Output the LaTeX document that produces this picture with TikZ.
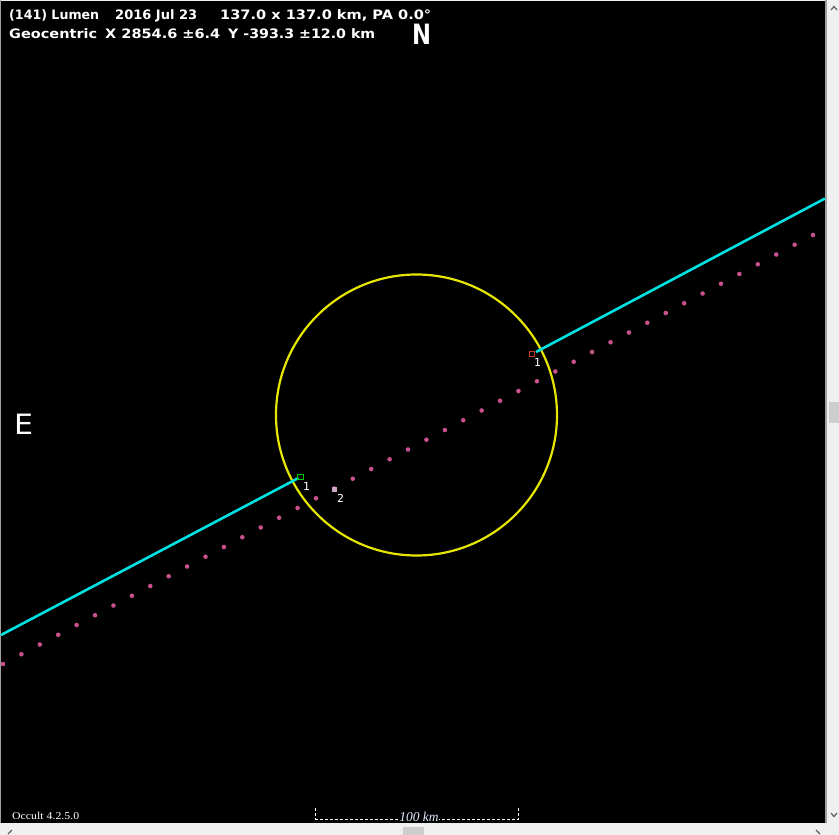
\documentclass[tikz,border=0pt]{standalone}
\usepackage{fontspec}
\usepackage{graphicx}
\setmainfont{DejaVu Sans}
\newfontfamily\serifo{Liberation Serif}
\definecolor{winbg}{RGB}{240,240,240}
\definecolor{sepgray}{RGB}{160,160,160}
\definecolor{thumbgray}{RGB}{205,205,205}
\definecolor{chevgray}{RGB}{96,96,96}
\definecolor{ringyel}{RGB}{230,230,0}
\definecolor{chordcyan}{RGB}{0,225,225}
\definecolor{dotpink}{RGB}{200,80,140}
\definecolor{markgreen}{RGB}{0,200,0}
\definecolor{markred}{RGB}{200,60,40}
\definecolor{marklav}{RGB}{205,165,200}
\definecolor{scaletxt}{RGB}{225,232,255}
\tikzset{
  hdr/.style={anchor=base west, inner sep=0pt, text=white, font=\bfseries\fontsize{13}{14}\selectfont},
  compass/.style={anchor=base west, inner sep=0pt, text=white, font=\fontsize{28}{30}\selectfont},
  ptlabel/.style={inner sep=0pt, text=white, font=\fontsize{11}{12}\selectfont},
  chord/.style={chordcyan, line width=2.6pt},
  pathdot/.style={fill=dotpink, draw=none},
  chev/.style={chevgray, line width=1.2pt}
}
\begin{document}
\begin{tikzpicture}[x=1pt,y=-1pt]
\useasboundingbox (0,0) rectangle (839,835);
% window background and plot area
\fill[winbg] (0,0) rectangle (839,835);
\fill[black] (1,1) rectangle (825,823);
\fill[sepgray] (825,0) rectangle (827,823);
\fill[sepgray] (0,0) rectangle (1,823);
% scrollbars
\fill[thumbgray] (829,402) rectangle (838.5,423);
\fill[thumbgray] (403,827) rectangle (424,835);
\draw[chev] (831,10) -- (834,6.5) -- (837,10);
\draw[chev] (831,813) -- (834,816.5) -- (837,813);
\draw[chev] (12,830) -- (8,834);
\draw[chev] (816,830) -- (820,834);

% header text
\node[hdr] (t1) at (9,19.5) {\resizebox{90pt}{\height}{(141) Lumen}};
\node[hdr] (t2) at (115,19.5) {\resizebox{82pt}{\height}{2016 Jul 23}};
\node[hdr] (t3) at (220,19.5) {\resizebox{211pt}{\height}{137.0 x 137.0 km, PA 0.0°}};
\node[hdr] (t4) at (9,38) {\resizebox{88pt}{\height}{Geocentric}};
\node[hdr] (t5) at (105,38) {\resizebox{115pt}{\height}{X 2854.6 ±6.4}};
\node[hdr] (t6) at (228,38) {\resizebox{147pt}{\height}{Y -393.3 ±12.0 km}};
% compass
\node[compass] (north) at (412,44) {\resizebox{19pt}{\height}{\bfseries N}};
\node[compass] (east) at (14,434) {\resizebox{19pt}{\height}{E}};

% asteroid outline
\draw[ringyel, line width=2.2pt] (416.5,415) circle (140.5);

% predicted path dots
\foreach \i in {0,...,44}{
  \fill[pathdot] ({3+18.41*\i},{664-9.75*\i}) circle (2.3);
}

% chords
\coordinate (cL0) at (1,635);
\coordinate (cL1) at (298.5,478);
\coordinate (cR0) at (536,352);
\coordinate (cR1) at (825,198.5);
\draw[chord] (cL0) -- (cL1);
\draw[chord] (cR0) -- (cR1);

% event markers
\node[draw=markgreen, line width=1.3pt, minimum size=5.5pt, inner sep=0pt] (m1a) at (300.5,477) {};
\node[draw=markred, line width=1.3pt, minimum size=5.5pt, inner sep=0pt] (m1b) at (532,354) {};
\node[fill=marklav, minimum size=5pt, inner sep=0pt] (m2) at (334,489) {};
\node[ptlabel] (l1a) at (306.5,486.5) {1};
\node[ptlabel] (l1b) at (537.5,362.5) {1};
\node[ptlabel] (l2) at (340.5,498.5) {2};

% scale bar
\node[inner sep=0pt, anchor=base, text=scaletxt, font=\serifo\itshape\fontsize{13.5}{14}\selectfont] (scl) at (419,821.5) {100 km};
\coordinate (sb0) at (315.5,808);
\coordinate (sb1) at (315.5,819);
\coordinate (sb2) at (518.5,819);
\coordinate (sb3) at (518.5,808);
\draw[white, line width=1pt, dash pattern=on 3pt off 2pt] (sb0) -- (sb1) -- (scl.west |- sb1);
\draw[white, line width=1pt, dash pattern=on 3pt off 2pt] (sb3) -- (sb2) -- (scl.east |- sb2);

% version
\node[inner sep=0pt, anchor=base west, text=white, font=\serifo\fontsize{10.5}{11}\selectfont] (ver) at (12,819) {\resizebox{67pt}{\height}{Occult 4.2.5.0}};
\end{tikzpicture}
\end{document}
